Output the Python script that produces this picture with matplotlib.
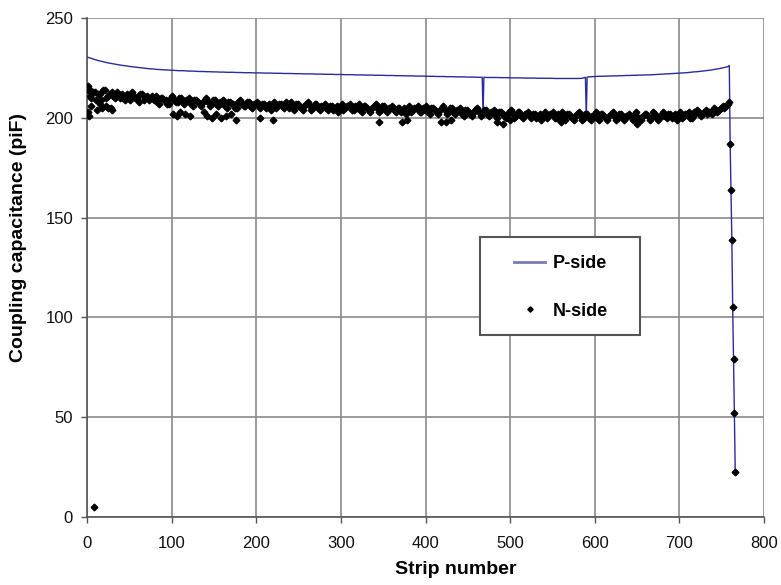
import numpy as np
import matplotlib
matplotlib.use("Agg")
import matplotlib.pyplot as plt
from matplotlib.patches import Rectangle

plt.rcParams['font.family'] = ['Liberation Sans', 'DejaVu Sans']

# ---- P-side coupling capacitance (pF), strips 1, 5, 9, ... 757 ----
p_start, p_step = 1, 4
p_side = [
    230.3, 229.8, 229.2, 228.7, 228.3, 227.9, 227.5, 227.2, 226.9, 226.6,
    226.3, 226.1, 225.8, 225.6, 225.4, 225.2, 225.0, 224.8, 224.6, 224.5,
    224.3, 224.2, 224.1, 224.0, 223.9, 223.8, 223.7, 223.6, 223.6, 223.5,
    223.4, 223.4, 223.3, 223.2, 223.2, 223.1, 223.1, 223.0, 223.0, 222.9,
    222.9, 222.8, 222.8, 222.8, 222.7, 222.7, 222.6, 222.6, 222.6, 222.5,
    222.5, 222.5, 222.4, 222.4, 222.4, 222.3, 222.3, 222.3, 222.2, 222.2,
    222.2, 222.1, 222.1, 222.1, 222.0, 222.0, 222.0, 221.9, 221.9, 221.9,
    221.8, 221.8, 221.8, 221.7, 221.7, 221.7, 221.6, 221.6, 221.6, 221.5,
    221.5, 221.5, 221.4, 221.4, 221.4, 221.3, 221.3, 221.3, 221.2, 221.2,
    221.2, 221.1, 221.1, 221.1, 221.0, 221.0, 221.0, 220.9, 220.9, 220.9,
    220.8, 220.8, 220.8, 220.7, 220.7, 220.7, 220.6, 220.6, 220.6, 220.5,
    220.5, 220.5, 220.4, 220.4, 220.4, 220.3, 220.3, 220.3, 220.2, 220.2,
    220.2, 220.2, 220.1, 220.1, 220.1, 220.0, 220.0, 220.0, 220.0, 219.9,
    219.9, 219.9, 219.9, 219.8, 219.8, 219.8, 219.8, 219.8, 219.7, 219.7,
    219.7, 219.7, 219.7, 219.7, 219.7, 219.7, 219.8, 220.3, 220.5, 220.6,
    220.7, 220.8, 220.8, 220.9, 220.9, 221.0, 221.0, 221.1, 221.1, 221.2,
    221.2, 221.3, 221.3, 221.4, 221.4, 221.5, 221.5, 221.6, 221.7, 221.8,
    221.9, 222.0, 222.1, 222.2, 222.3, 222.4, 222.5, 222.6, 222.8, 223.0,
    223.1, 223.3, 223.5, 223.7, 223.9, 224.2, 224.5, 224.8, 225.2, 225.6,
]
# dead strips (468, 590) and the last strips at the sensor edge
p_extra_strips = [467, 468, 589, 590, 591, 759, 760, 761, 762, 763, 764, 765, 766]
p_extra_values = [220.3, 201.5, 219.8, 200.0, 220.4,
                  226.2, 187.0, 164.0, 139.0, 105.0, 79.0, 52.0, 22.5]

# ---- N-side coupling capacitance (pF), strips 1, 5, ... 757 ----
n_a_start, n_a_step = 1, 4
n_side_a = [
    214, 210, 213, 212, 209, 214, 211, 213, 210, 212,
    212, 209, 211, 213, 210, 208, 212, 210, 209, 211,
    211, 207, 210, 209, 207, 211, 208, 210, 208, 209,
    210, 206, 209, 207, 208, 210, 206, 209, 207, 208,
    209, 205, 208, 207, 205, 209, 206, 208, 206, 207,
    208, 205, 207, 206, 204, 208, 206, 207, 205, 207,
    208, 204, 207, 205, 206, 208, 204, 207, 205, 206,
    207, 204, 206, 205, 203, 207, 205, 206, 204, 206,
    207, 203, 206, 204, 205, 207, 203, 206, 204, 205,
    206, 203, 205, 204, 202, 206, 204, 205, 203, 205,
    206, 202, 205, 203, 204, 206, 202, 205, 203, 204,
    205, 201, 204, 202, 203, 205, 201, 204, 202, 203,
    204, 200, 203, 201, 202, 204, 200, 203, 201, 202,
    203, 200, 202, 201, 199, 203, 201, 202, 200, 202,
    203, 199, 202, 200, 201, 203, 199, 202, 200, 201,
    203, 199, 202, 200, 201, 203, 199, 202, 200, 201,
    202, 199, 203, 200, 201, 202, 199, 203, 200, 201,
    203, 200, 202, 201, 199, 203, 201, 202, 200, 203,
    204, 201, 203, 202, 203, 205, 203, 205, 205, 207,
]
# ---- N-side, strips 3, 7, ... 759 ----
n_b_start, n_b_step = 3, 4
n_side_b = [
    211, 213, 209, 212, 214, 210, 212, 211, 213, 210,
    210, 212, 209, 211, 210, 212, 209, 211, 210, 209,
    208, 210, 209, 207, 210, 209, 208, 210, 207, 209,
    207, 209, 208, 206, 209, 208, 207, 209, 206, 208,
    206, 208, 207, 205, 208, 207, 206, 208, 205, 207,
    206, 207, 205, 207, 206, 205, 207, 206, 208, 205,
    205, 207, 206, 204, 207, 206, 205, 207, 204, 206,
    205, 206, 204, 206, 205, 204, 206, 207, 204, 205,
    204, 206, 205, 203, 206, 205, 204, 206, 203, 205,
    204, 205, 203, 205, 204, 203, 205, 206, 203, 204,
    203, 205, 204, 202, 205, 204, 203, 205, 202, 204,
    202, 204, 203, 201, 204, 203, 202, 204, 201, 203,
    201, 203, 202, 200, 203, 202, 201, 203, 200, 202,
    201, 202, 200, 202, 201, 200, 202, 203, 200, 201,
    200, 202, 201, 199, 202, 201, 200, 202, 199, 201,
    200, 202, 201, 199, 202, 201, 200, 202, 199, 201,
    201, 202, 200, 199, 202, 201, 200, 202, 199, 201,
    201, 202, 200, 202, 201, 200, 202, 203, 200, 202,
    203, 202, 204, 203, 202, 204, 204, 206, 206, 208,
]
# ---- N-side individual strips (low readings and edge strips) ----
n_extra_strips = [1, 1, 2, 3, 5, 8, 12, 15, 18, 22, 25, 28, 30,
                  102, 106, 110, 116, 122, 138, 142, 148, 152, 158, 164, 170, 176,
                  205, 220, 345, 372, 378, 418, 424, 430, 484, 492, 500, 560, 650,
                  760, 761, 762, 763, 764, 765, 766]
n_extra_values = [216, 203, 201, 214, 206, 5, 204, 207, 205, 206, 205, 205, 204,
                  202, 201, 203, 202, 201, 203, 201, 200, 202, 200, 201, 202, 199,
                  200, 199, 198, 198, 199, 198, 198, 199, 198, 197, 199, 198, 197,
                  187, 164, 139, 105, 79, 52, 22.5]

x_ticks = [0, 100, 200, 300, 400, 500, 600, 700, 800]
y_ticks = [0, 50, 100, 150, 200, 250]

# assemble series
p_x = list(range(p_start, p_start + p_step * len(p_side), p_step)) + p_extra_strips
p_y = list(p_side) + p_extra_values
order = np.argsort(p_x, kind="stable")
p_x = np.asarray(p_x)[order]
p_y = np.asarray(p_y)[order]

n_x = (list(range(n_a_start, n_a_start + n_a_step * len(n_side_a), n_a_step))
       + list(range(n_b_start, n_b_start + n_b_step * len(n_side_b), n_b_step))
       + n_extra_strips)
n_y = list(n_side_a) + list(n_side_b) + n_extra_values

fig = plt.figure(figsize=(7.81, 5.85), dpi=100)
ax = fig.add_axes([87 / 781, 1 - 517 / 585, (764 - 87) / 781, (517 - 18) / 585])

grid_c = "#8a8a8a"
ax.set_xlim(0, 800)
ax.set_ylim(0, 250)
ax.set_xticks(x_ticks)
ax.set_yticks(y_ticks)
ax.grid(True, color=grid_c, linewidth=1.2, zorder=0)
ax.set_axisbelow(True)

ax.plot(p_x, p_y, color="#2b2b9c", linewidth=1.0, label="P-side", zorder=3)
ax.plot(n_x, n_y, linestyle="none", marker="D", markersize=3.4,
        color="black", label="N-side", zorder=4)

for s in ("top", "right"):
    ax.spines[s].set_visible(False)
for s in ("left", "bottom"):
    ax.spines[s].set_color("#555555")
    ax.spines[s].set_linewidth(1.2)

ax.tick_params(direction="out", length=4, width=1, colors="#555555",
               labelcolor="#111111", labelsize=12)
ax.tick_params(axis="x", pad=10)
ax.tick_params(axis="y", pad=6)

ax.set_xlabel("Strip number", fontsize=14, fontweight="bold")
ax.xaxis.set_label_coords(0.545, -0.088)
ax.set_ylabel("Coupling capacitance (piF)", fontsize=14, fontweight="bold")
ax.yaxis.set_label_coords(-0.088, 0.561)

# legend box
ax.add_patch(Rectangle((0.5805, 0.3647), 0.2363, 0.1964, transform=ax.transAxes,
                       facecolor="white", edgecolor="#555555", linewidth=1.5,
                       zorder=6, clip_on=False))
leg = ax.legend(loc="center", bbox_to_anchor=(0.700, 0.460),
                frameon=False, prop={"weight": "bold", "size": 13},
                labelspacing=1.7, borderpad=0.0, handlelength=1.7,
                handletextpad=0.4, markerscale=0.8)
leg.set_zorder(7)
leg.get_lines()[0].set_color("#7a7ab8")
leg.get_lines()[0].set_linewidth(2.0)

fig.savefig("out.png", dpi=100, facecolor="white")
